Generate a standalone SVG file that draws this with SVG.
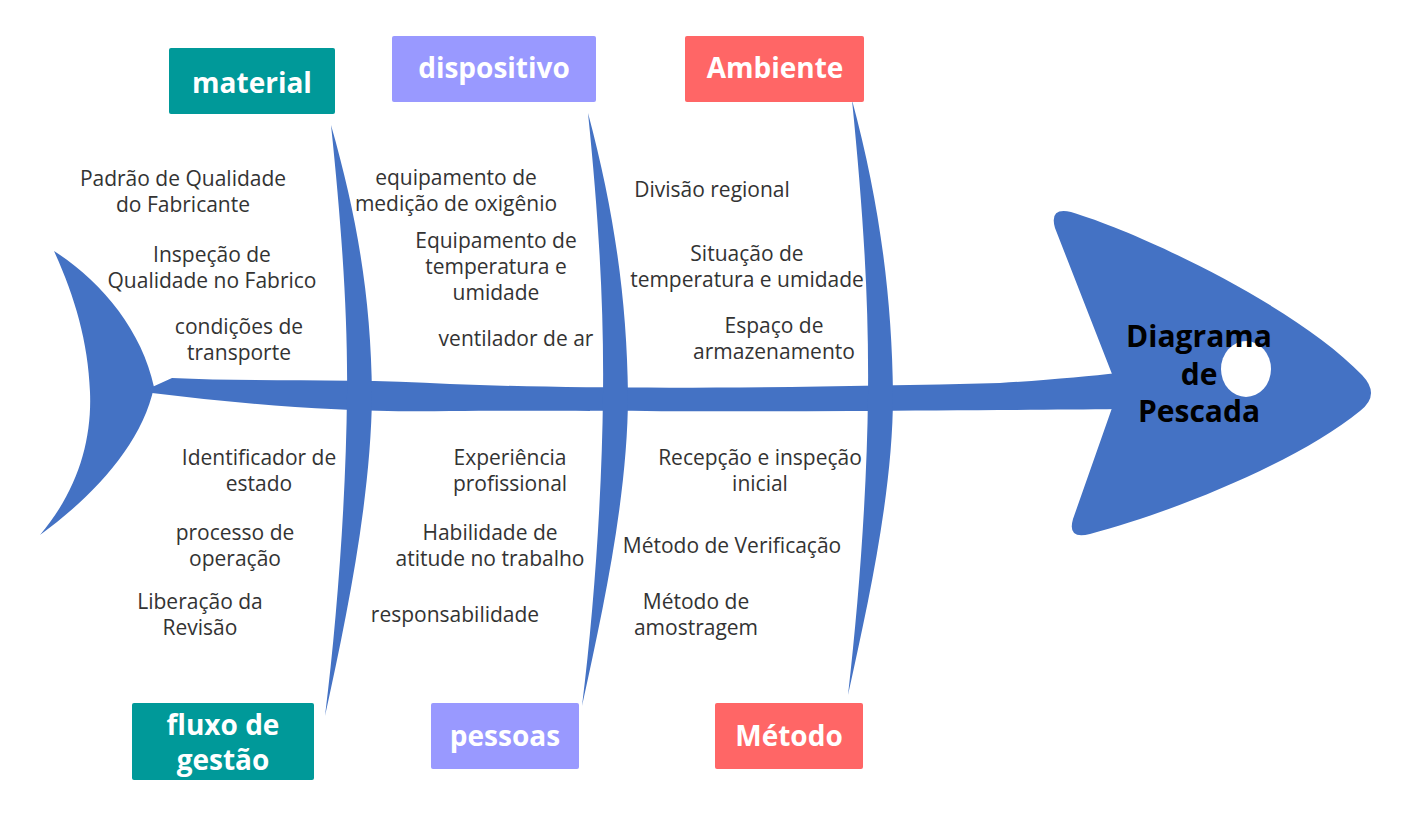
<svg xmlns="http://www.w3.org/2000/svg" width="1410" height="816" viewBox="0 0 1410 816">
<style>
.fish{fill:#4472C4;}
.lbl{font-family:"Open Sans","Liberation Sans",sans-serif;font-size:21px;fill:#333333;text-anchor:middle;}
.cat{font-family:"Open Sans","Liberation Sans",sans-serif;font-size:28px;font-weight:bold;fill:#FFFFFF;text-anchor:middle;}
.title{font-family:"Open Sans","Liberation Sans",sans-serif;font-size:30px;font-weight:bold;fill:#000000;text-anchor:middle;}
.teal{fill:#009999;}
.lav{fill:#9999FF;}
.red{fill:#FF6666;}
</style>
<rect width="1410" height="816" fill="#FFFFFF"/>

<g id="fish-body">
  <path id="tail" class="fish" d="M54,251 C100,280 142,330 154,387 C142,445 92,497 40,535 C78,490 92,440 90,392 C88,340 74,295 54,251 Z"/>
  <path id="spine" class="fish" d="M150,388 L172,378 C250,382 350,378 450,384 C600,390 800,388 1000,383 C1050,380 1090,376 1118,373 L1118,409 C1050,410 950,410 850,411 C700,412 550,410 450,411 C350,413 250,405 152,393 Z"/>
</g>

<g id="connectors">
  <path id="bone-material-fluxo" class="fish" d="M331,125 C342,230 348,320 347,395 C346,500 337,620 325,716 C346,620 371,500 372,395 C371,300 358,220 331,125 Z"/>
  <path id="bone-dispositivo-pessoas" class="fish" d="M588,113 C599,220 604,310 603,395 C602,495 594,610 582,706 C603,610 628,495 628,395 C627,300 614,210 588,113 Z"/>
  <path id="bone-ambiente-metodo" class="fish" d="M852,100 C863,210 869,300 868,395 C867,490 859,600 848,695 C869,600 893,490 893,395 C892,295 879,200 852,100 Z"/>
</g>

<g id="head">
  <path class="fish" d="M1112,374 L1055,228 Q1049,207 1071,212 C1150,236 1300,310 1362,375 Q1381,395 1360,411 C1300,460 1180,510 1090,534 Q1067,540 1073,519 L1112,408 Z"/>
  <ellipse cx="1246" cy="369" rx="25" ry="28" fill="#FFFFFF"/>
  <text class="title" x="1199" y="347">Diagrama</text>
  <text class="title" x="1199" y="385">de</text>
  <text class="title" x="1199" y="422">Pescada</text>
</g>

<g id="node-material">
  <rect class="teal" x="169" y="48" width="166" height="66" rx="2"/>
  <text class="cat" x="252" y="93">material</text>
</g>
<g id="node-dispositivo">
  <rect class="lav" x="392" y="36" width="204" height="66" rx="2"/>
  <text class="cat" x="494" y="78">dispositivo</text>
</g>
<g id="node-ambiente">
  <rect class="red" x="685" y="36" width="179" height="66" rx="2"/>
  <text class="cat" x="775" y="78">Ambiente</text>
</g>
<g id="node-fluxo">
  <rect class="teal" x="132" y="703" width="182" height="77" rx="2"/>
  <text class="cat" x="223" y="735">fluxo de</text>
  <text class="cat" x="223" y="770">gestão</text>
</g>
<g id="node-pessoas">
  <rect class="lav" x="431" y="703" width="148" height="66" rx="2"/>
  <text class="cat" x="505" y="746">pessoas</text>
</g>
<g id="node-metodo">
  <rect class="red" x="715" y="703" width="148" height="66" rx="2"/>
  <text class="cat" x="789" y="746">Método</text>
</g>

<g id="causes-material">
  <text class="lbl" x="183" y="186">Padrão de Qualidade</text>
  <text class="lbl" x="183" y="212">do Fabricante</text>
  <text class="lbl" x="212" y="262">Inspeção de</text>
  <text class="lbl" x="212" y="288">Qualidade no Fabrico</text>
  <text class="lbl" x="239" y="334">condições de</text>
  <text class="lbl" x="239" y="360">transporte</text>
</g>
<g id="causes-dispositivo">
  <text class="lbl" x="456" y="185">equipamento de</text>
  <text class="lbl" x="456" y="211">medição de oxigênio</text>
  <text class="lbl" x="496" y="248">Equipamento de</text>
  <text class="lbl" x="496" y="274">temperatura e</text>
  <text class="lbl" x="496" y="300">umidade</text>
  <text class="lbl" x="516" y="346">ventilador de ar</text>
</g>
<g id="causes-ambiente">
  <text class="lbl" x="712" y="197">Divisão regional</text>
  <text class="lbl" x="747" y="261">Situação de</text>
  <text class="lbl" x="747" y="287">temperatura e umidade</text>
  <text class="lbl" x="774" y="333">Espaço de</text>
  <text class="lbl" x="774" y="359">armazenamento</text>
</g>
<g id="causes-fluxo">
  <text class="lbl" x="259" y="465">Identificador de</text>
  <text class="lbl" x="259" y="491">estado</text>
  <text class="lbl" x="235" y="540">processo de</text>
  <text class="lbl" x="235" y="566">operação</text>
  <text class="lbl" x="200" y="609">Liberação da</text>
  <text class="lbl" x="200" y="635">Revisão</text>
</g>
<g id="causes-pessoas">
  <text class="lbl" x="510" y="465">Experiência</text>
  <text class="lbl" x="510" y="491">profissional</text>
  <text class="lbl" x="490" y="540">Habilidade de</text>
  <text class="lbl" x="490" y="566">atitude no trabalho</text>
  <text class="lbl" x="455" y="622">responsabilidade</text>
</g>
<g id="causes-metodo">
  <text class="lbl" x="760" y="465">Recepção e inspeção</text>
  <text class="lbl" x="760" y="491">inicial</text>
  <text class="lbl" x="732" y="553">Método de Verificação</text>
  <text class="lbl" x="696" y="609">Método de</text>
  <text class="lbl" x="696" y="635">amostragem</text>
</g>
</svg>
